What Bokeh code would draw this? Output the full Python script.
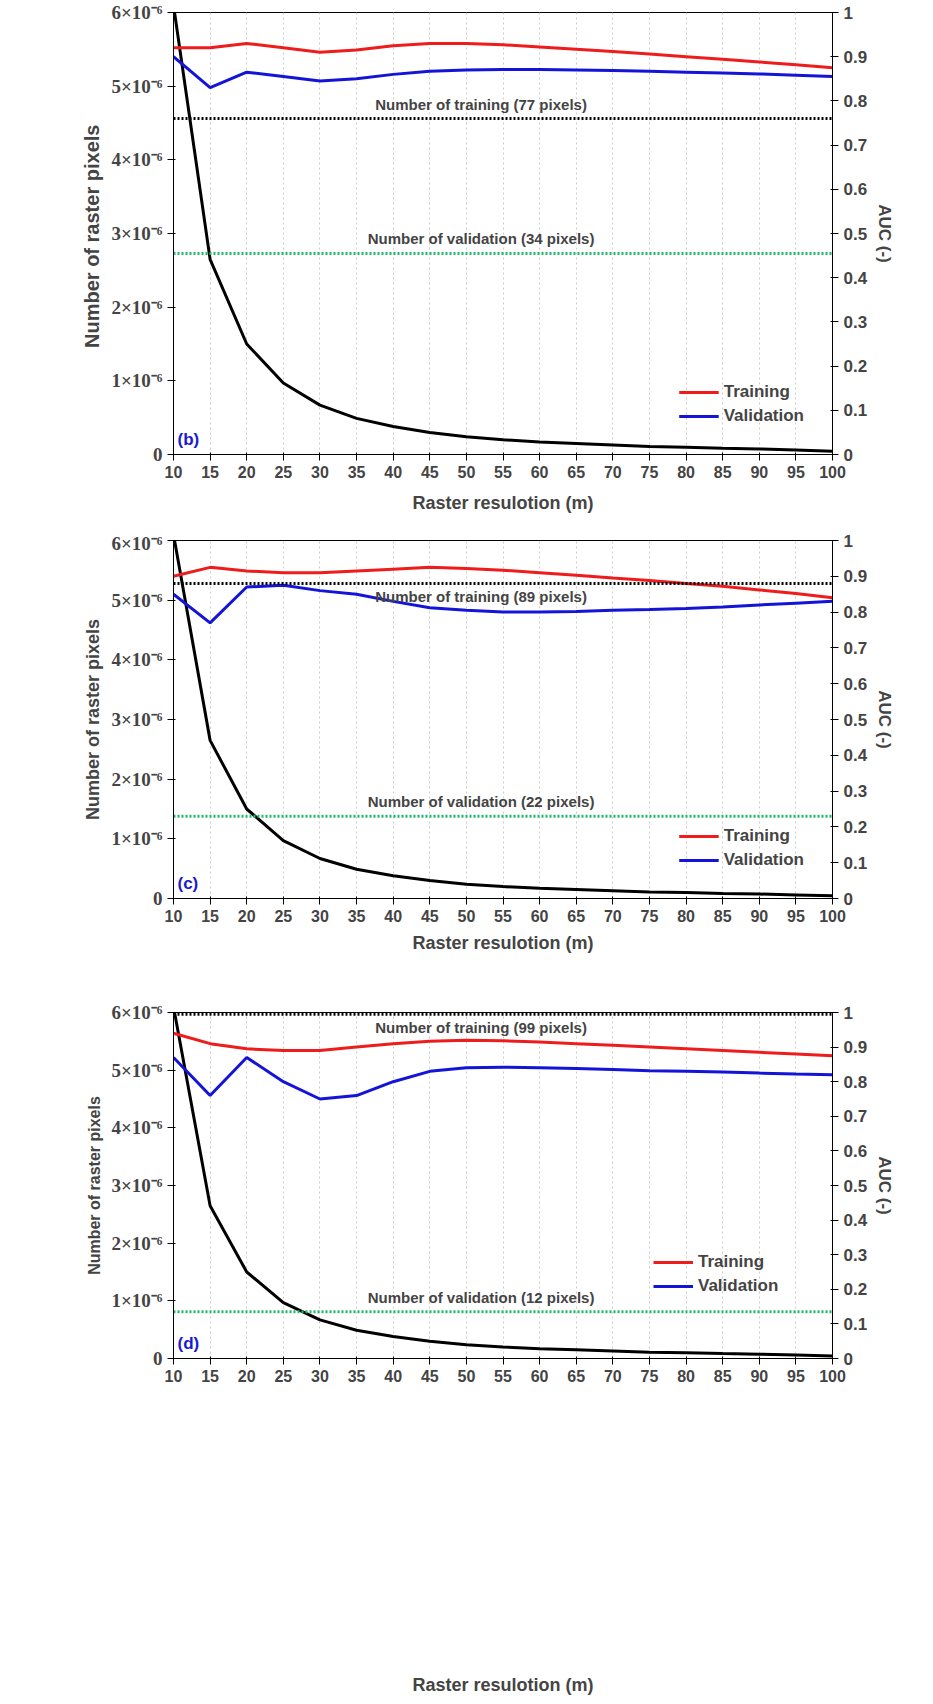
from bokeh.plotting import figure
from bokeh.models import Range1d, LinearAxis, FixedTicker, Label, Legend, LegendItem
from bokeh.layouts import column
from bokeh.embed import file_html
from bokeh.resources import INLINE

res = [10, 15, 20, 25, 30, 35, 40, 45, 50, 55, 60, 65, 70, 75, 80, 85, 90, 95, 100]
# number of raster pixels, in units of 1e-6
pixels = [6.1, 2.65, 1.5, 0.97, 0.67, 0.49, 0.38, 0.30, 0.24, 0.20, 0.17, 0.15, 0.13, 0.11, 0.10, 0.085, 0.075, 0.06, 0.045]

train_b = [0.92, 0.92, 0.93, 0.92, 0.91, 0.915, 0.925, 0.93, 0.93, 0.927, 0.922, 0.917, 0.912, 0.906, 0.90, 0.894, 0.888, 0.882, 0.875]
valid_b = [0.90, 0.83, 0.865, 0.855, 0.845, 0.85, 0.86, 0.867, 0.87, 0.871, 0.871, 0.87, 0.869, 0.867, 0.865, 0.863, 0.861, 0.858, 0.855]
train_c = [0.90, 0.925, 0.915, 0.91, 0.91, 0.915, 0.92, 0.925, 0.922, 0.917, 0.91, 0.903, 0.895, 0.888, 0.88, 0.872, 0.862, 0.852, 0.84]
valid_c = [0.85, 0.77, 0.87, 0.875, 0.86, 0.85, 0.83, 0.812, 0.805, 0.80, 0.80, 0.802, 0.805, 0.807, 0.81, 0.814, 0.82, 0.825, 0.83]
train_d = [0.94, 0.91, 0.895, 0.89, 0.89, 0.90, 0.91, 0.917, 0.92, 0.918, 0.915, 0.91, 0.905, 0.90, 0.895, 0.89, 0.885, 0.88, 0.875]
valid_d = [0.87, 0.76, 0.87, 0.80, 0.75, 0.76, 0.80, 0.83, 0.84, 0.842, 0.84, 0.838, 0.835, 0.832, 0.83, 0.828, 0.825, 0.822, 0.82]

panels = [
    dict(tag="(b)", train=train_b, valid=valid_b, ntr=0.76, nva=0.455, ltr="Number of training (77 pixels)", lva="Number of validation (34 pixels)",
         otr=6, ova=6, h=532, bt=12, bb=78, ylab="Number of  raster pixels", yfs="20px", stand=12, lm=28, lloc="bottom_right"),
    dict(tag="(c)", train=train_c, valid=valid_c, ntr=0.88, nva=0.23, ltr="Number of training (89 pixels)", lva="Number of validation (22 pixels)",
         otr=-22, ova=6, h=435, bt=8, bb=69, ylab="Number of raster pixels", yfs="18px", stand=8, lm=28, lloc="bottom_right"),
    dict(tag="(d)", train=train_d, valid=valid_d, ntr=0.995, nva=0.135, ltr="Number of training (99 pixels)", lva="Number of validation (12 pixels)",
         otr=-22, ova=6, h=730, bt=45, bb=335, ylab="Number of raster pixels", yfs="16px", stand=290, lm=0, lloc=(480, 62)),
]

left_ticks = [0, 1, 2, 3, 4, 5, 6]
left_labels = {0: "0"}
for k in range(1, 7):
    left_labels[k] = f"{k}×10⁻⁶"
auc_ticks = [round(0.1 * i, 1) for i in range(11)]

figs = []
for pn in panels:
    p = figure(width=917, height=pn["h"], output_backend="svg", toolbar_location=None,
               x_range=Range1d(10, 100), y_range=Range1d(0, 6),
               min_border_left=173, min_border_right=85, min_border_top=pn["bt"], min_border_bottom=pn["bb"])
    p.extra_y_ranges = {"auc": Range1d(0, 1)}
    p.outline_line_color = "black"
    p.ygrid.visible = False
    p.xgrid.ticker = FixedTicker(ticks=res)
    p.xgrid.grid_line_color = "#cccccc"
    p.xgrid.grid_line_dash = "2 3"
    p.xaxis.ticker = FixedTicker(ticks=res)
    p.xaxis.axis_label = "Raster resulotion (m)"
    p.xaxis.axis_label_standoff = pn["stand"]
    p.xaxis.axis_label_text_font = "Liberation Sans"
    p.xaxis.axis_label_text_font_style = "bold"
    p.xaxis.axis_label_text_font_size = "18px"
    p.xaxis.major_label_text_font = "Liberation Sans"
    p.xaxis.major_label_text_font_style = "bold"
    p.xaxis.major_label_text_font_size = "16px"
    p.yaxis.ticker = FixedTicker(ticks=left_ticks)
    p.yaxis.major_label_overrides = left_labels
    p.yaxis.major_label_text_font = "Liberation Serif"
    p.yaxis.major_label_text_font_style = "bold"
    p.yaxis.major_label_text_font_size = "19px"
    p.yaxis.axis_label = pn["ylab"]
    p.yaxis.axis_label_text_font = "Liberation Sans"
    p.yaxis.axis_label_text_font_style = "bold"
    p.yaxis.axis_label_text_font_size = pn["yfs"]
    p.yaxis.minor_tick_line_color = None
    p.xaxis.minor_tick_line_color = None
    ax = LinearAxis(y_range_name="auc", ticker=FixedTicker(ticks=auc_ticks), axis_label="AUC (-)")
    ax.major_label_overrides = {0.0: "0", 1.0: "1"}
    ax.major_label_text_font = "Liberation Sans"
    ax.major_label_text_font_style = "bold"
    ax.major_label_text_font_size = "17px"
    ax.axis_label_text_font = "Liberation Sans"
    ax.axis_label_text_font_style = "bold"
    ax.axis_label_text_font_size = "17px"
    ax.minor_tick_line_color = None
    p.add_layout(ax, "right")

    p.line(res, pixels, line_color="black", line_width=3)
    r1 = p.line(res, pn["train"], y_range_name="auc", line_color="#ee1c1c", line_width=3)
    r2 = p.line(res, pn["valid"], y_range_name="auc", line_color="#1414d8", line_width=3)
    p.line([10, 100], [pn["ntr"], pn["ntr"]], y_range_name="auc", line_color="black", line_width=3, line_dash="2 2")
    p.line([10, 100], [pn["nva"], pn["nva"]], y_range_name="auc", line_color="#1fb86a", line_width=3, line_dash="2 2")
    for txt, yv, off in ((pn["ltr"], pn["ntr"], pn["otr"]), (pn["lva"], pn["nva"], pn["ova"])):
        p.add_layout(Label(x=52, y=yv, y_range_name="auc", text=txt, text_align="center", y_offset=off,
                           text_font="Liberation Sans", text_font_style="bold", text_font_size="15px"))
    p.add_layout(Label(x=10, y=0, text=pn["tag"], x_offset=4, y_offset=6, text_color="#1a1ad0",
                       text_font="Liberation Sans", text_font_style="bold", text_font_size="17px"))
    lg = Legend(items=[LegendItem(label="Training", renderers=[r1]), LegendItem(label="Validation", renderers=[r2])],
                location=pn["lloc"], border_line_color=None, background_fill_alpha=0,
                label_text_font="Liberation Sans", label_text_font_size="17px", label_text_font_style="bold",
                glyph_width=40, spacing=4, padding=0, margin=pn["lm"])
    p.add_layout(lg)
    figs.append(p)

layout = column(*figs, spacing=0)
open("out.html", "w").write(file_html(layout, INLINE))
